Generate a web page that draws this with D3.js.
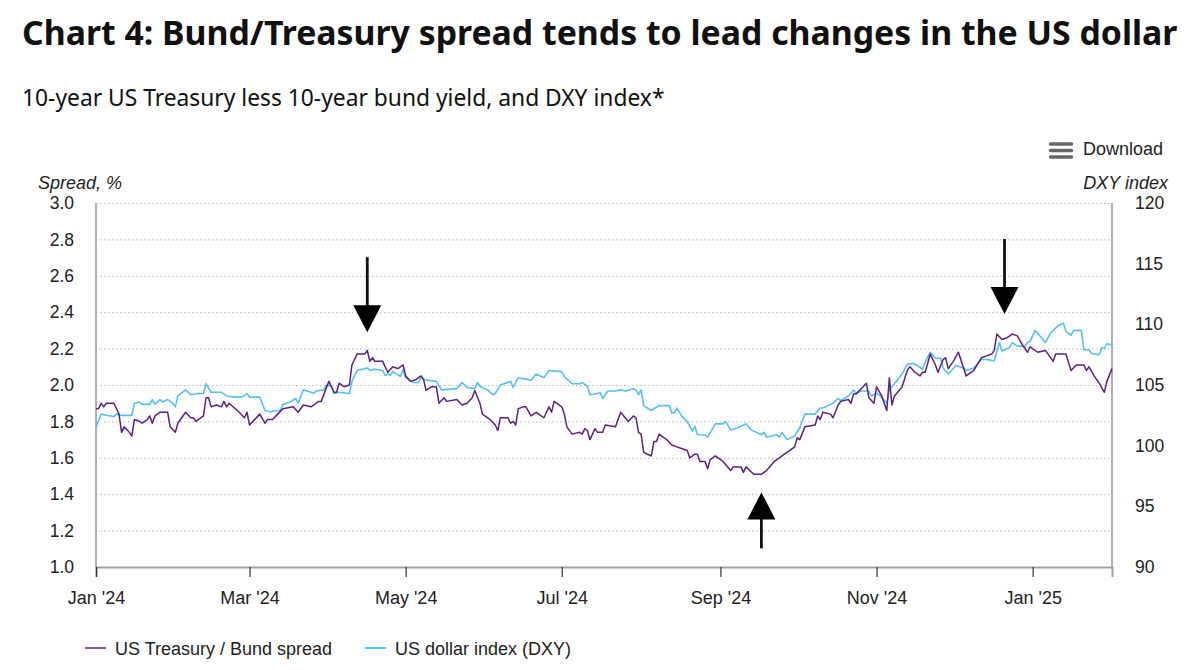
<!DOCTYPE html>
<html>
<head>
<meta charset="utf-8">
<script src="https://cdn.jsdelivr.net/npm/d3@7"></script>
<style>
  body { margin: 0; background: #fff; }
  .title { font-family: "Noto Sans", "Open Sans", sans-serif; }
  .lab { font-family: "Liberation Sans", Arial, sans-serif; fill: #222; }
</style>
</head>
<body>
<svg id="chart" width="1200" height="670"></svg>
<script>
// US Treasury / Bund spread (%)
const spreadDates = ["2024-01-01","2024-01-02","2024-01-03","2024-01-04","2024-01-05","2024-01-08","2024-01-10","2024-01-11","2024-01-12","2024-01-14","2024-01-15","2024-01-16","2024-01-18","2024-01-19","2024-01-21","2024-01-22","2024-01-23","2024-01-24","2024-01-26","2024-01-29","2024-01-30","2024-02-01","2024-02-02","2024-02-05","2024-02-07","2024-02-08","2024-02-09","2024-02-12","2024-02-13","2024-02-14","2024-02-15","2024-02-17","2024-02-19","2024-02-20","2024-02-21","2024-02-22","2024-02-26","2024-02-28","2024-02-29","2024-03-01","2024-03-05","2024-03-07","2024-03-08","2024-03-10","2024-03-12","2024-03-14","2024-03-18","2024-03-20","2024-03-22","2024-03-25","2024-03-28","2024-03-29","2024-04-01","2024-04-03","2024-04-04","2024-04-05","2024-04-07","2024-04-09","2024-04-10","2024-04-12","2024-04-15","2024-04-16","2024-04-17","2024-04-18","2024-04-19","2024-04-22","2024-04-24","2024-04-26","2024-04-28","2024-04-30","2024-05-01","2024-05-03","2024-05-05","2024-05-07","2024-05-08","2024-05-09","2024-05-11","2024-05-13","2024-05-14","2024-05-16","2024-05-17","2024-05-21","2024-05-23","2024-05-25","2024-05-27","2024-05-28","2024-05-30","2024-05-31","2024-06-03","2024-06-05","2024-06-06","2024-06-07","2024-06-10","2024-06-11","2024-06-12","2024-06-13","2024-06-14","2024-06-16","2024-06-17","2024-06-19","2024-06-21","2024-06-24","2024-06-26","2024-06-27","2024-06-28","2024-07-01","2024-07-02","2024-07-03","2024-07-05","2024-07-08","2024-07-09","2024-07-10","2024-07-11","2024-07-12","2024-07-14","2024-07-15","2024-07-17","2024-07-18","2024-07-22","2024-07-24","2024-07-27","2024-07-29","2024-07-30","2024-07-31","2024-08-01","2024-08-02","2024-08-05","2024-08-06","2024-08-07","2024-08-08","2024-08-11","2024-08-13","2024-08-15","2024-08-17","2024-08-19","2024-08-20","2024-08-22","2024-08-23","2024-08-24","2024-08-26","2024-08-27","2024-08-28","2024-08-30","2024-09-02","2024-09-05","2024-09-06","2024-09-09","2024-09-10","2024-09-11","2024-09-14","2024-09-17","2024-09-19","2024-09-22","2024-09-24","2024-09-26","2024-09-28","2024-09-30","2024-10-01","2024-10-02","2024-10-04","2024-10-08","2024-10-09","2024-10-10","2024-10-11","2024-10-14","2024-10-15","2024-10-17","2024-10-18","2024-10-21","2024-10-22","2024-10-23","2024-10-24","2024-10-26","2024-10-28","2024-10-29","2024-10-31","2024-11-01","2024-11-03","2024-11-05","2024-11-06","2024-11-07","2024-11-08","2024-11-11","2024-11-13","2024-11-14","2024-11-16","2024-11-18","2024-11-19","2024-11-20","2024-11-22","2024-11-24","2024-11-25","2024-11-27","2024-11-28","2024-11-29","2024-12-01","2024-12-03","2024-12-06","2024-12-09","2024-12-12","2024-12-14","2024-12-16","2024-12-17","2024-12-18","2024-12-20","2024-12-22","2024-12-24","2024-12-26","2024-12-28","2024-12-30","2024-12-31","2025-01-03","2025-01-06","2025-01-09","2025-01-10","2025-01-14","2025-01-16","2025-01-18","2025-01-21","2025-01-22","2025-01-23","2025-01-25","2025-01-27","2025-01-29","2025-01-30","2025-02-01"];
const spreadValues = [1.87,1.87,1.90,1.88,1.90,1.90,1.84,1.74,1.77,1.74,1.72,1.81,1.80,1.79,1.81,1.83,1.79,1.83,1.85,1.85,1.77,1.74,1.79,1.85,1.82,1.82,1.80,1.83,1.93,1.93,1.88,1.89,1.88,1.91,1.88,1.90,1.85,1.82,1.85,1.78,1.84,1.79,1.81,1.81,1.84,1.87,1.88,1.85,1.89,1.88,1.91,1.91,2.02,1.96,1.96,2.01,1.99,2.00,2.11,2.17,2.17,2.19,2.13,2.15,2.13,2.13,2.07,2.10,2.09,2.11,2.05,2.02,2.03,2.05,2.03,1.97,1.99,1.99,1.90,1.93,1.91,1.92,1.89,1.90,1.93,1.97,1.90,1.84,1.81,1.78,1.75,1.82,1.82,1.79,1.80,1.78,1.87,1.88,1.88,1.83,1.85,1.82,1.88,1.85,1.91,1.88,1.84,1.77,1.73,1.74,1.73,1.76,1.75,1.70,1.76,1.74,1.74,1.78,1.77,1.85,1.80,1.83,1.82,1.74,1.73,1.63,1.61,1.69,1.69,1.73,1.70,1.67,1.66,1.65,1.64,1.60,1.62,1.62,1.58,1.58,1.54,1.59,1.61,1.58,1.53,1.55,1.55,1.52,1.55,1.51,1.51,1.53,1.58,1.60,1.62,1.64,1.66,1.71,1.70,1.77,1.78,1.83,1.81,1.85,1.84,1.82,1.89,1.91,1.92,1.90,1.95,1.95,1.98,2.01,1.93,1.90,1.99,1.94,1.86,2.04,1.89,1.94,1.99,2.08,2.10,2.07,2.05,2.07,2.07,2.17,2.11,2.07,2.14,2.15,2.09,2.13,2.18,2.05,2.08,2.15,2.16,2.17,2.19,2.28,2.25,2.26,2.28,2.27,2.22,2.18,2.21,2.18,2.19,2.13,2.17,2.17,2.08,2.11,2.11,2.08,2.10,2.05,2.01,1.96,2.02,2.09];

// US dollar index (DXY)
const dxyDates = ["2024-01-01","2024-01-03","2024-01-05","2024-01-08","2024-01-09","2024-01-11","2024-01-12","2024-01-15","2024-01-16","2024-01-18","2024-01-19","2024-01-22","2024-01-23","2024-01-24","2024-01-26","2024-01-27","2024-01-29","2024-01-31","2024-02-01","2024-02-02","2024-02-05","2024-02-07","2024-02-10","2024-02-12","2024-02-13","2024-02-15","2024-02-19","2024-02-21","2024-02-24","2024-02-27","2024-02-29","2024-03-01","2024-03-05","2024-03-07","2024-03-09","2024-03-12","2024-03-13","2024-03-14","2024-03-17","2024-03-19","2024-03-20","2024-03-22","2024-03-25","2024-03-26","2024-03-27","2024-03-30","2024-03-31","2024-04-02","2024-04-03","2024-04-05","2024-04-09","2024-04-10","2024-04-12","2024-04-16","2024-04-17","2024-04-19","2024-04-22","2024-04-23","2024-04-24","2024-04-25","2024-04-26","2024-04-29","2024-04-30","2024-05-01","2024-05-04","2024-05-06","2024-05-07","2024-05-09","2024-05-13","2024-05-15","2024-05-21","2024-05-23","2024-05-25","2024-05-28","2024-05-29","2024-05-30","2024-06-02","2024-06-04","2024-06-05","2024-06-07","2024-06-11","2024-06-12","2024-06-14","2024-06-19","2024-06-21","2024-06-24","2024-06-26","2024-07-01","2024-07-02","2024-07-05","2024-07-08","2024-07-09","2024-07-11","2024-07-12","2024-07-15","2024-07-16","2024-07-17","2024-07-19","2024-07-22","2024-07-24","2024-07-26","2024-07-29","2024-07-30","2024-07-31","2024-08-01","2024-08-02","2024-08-05","2024-08-08","2024-08-12","2024-08-13","2024-08-14","2024-08-15","2024-08-17","2024-08-19","2024-08-21","2024-08-22","2024-08-23","2024-08-26","2024-08-27","2024-08-30","2024-09-02","2024-09-03","2024-09-05","2024-09-08","2024-09-11","2024-09-13","2024-09-17","2024-09-18","2024-09-19","2024-09-23","2024-09-24","2024-09-25","2024-09-27","2024-09-30","2024-10-02","2024-10-04","2024-10-08","2024-10-10","2024-10-11","2024-10-13","2024-10-15","2024-10-17","2024-10-18","2024-10-21","2024-10-22","2024-10-23","2024-10-24","2024-10-26","2024-10-29","2024-10-30","2024-11-01","2024-11-02","2024-11-05","2024-11-06","2024-11-08","2024-11-11","2024-11-13","2024-11-15","2024-11-17","2024-11-19","2024-11-20","2024-11-22","2024-11-24","2024-11-26","2024-11-27","2024-11-29","2024-12-02","2024-12-05","2024-12-06","2024-12-09","2024-12-12","2024-12-14","2024-12-17","2024-12-19","2024-12-20","2024-12-23","2024-12-24","2024-12-26","2024-12-29","2024-12-30","2024-12-31","2025-01-02","2025-01-04","2025-01-06","2025-01-08","2025-01-11","2025-01-13","2025-01-14","2025-01-16","2025-01-17","2025-01-20","2025-01-21","2025-01-23","2025-01-24","2025-01-27","2025-01-28","2025-01-29","2025-01-30","2025-02-01"];
const dxyValues = [101.5,102.6,102.5,102.4,102.6,102.5,102.5,102.5,103.5,103.6,103.4,103.4,103.8,103.4,103.8,103.6,103.8,103.5,103.2,104.1,104.6,104.2,104.3,104.3,105.1,104.4,104.4,104.1,104.0,104.0,104.3,104.0,104.0,102.9,102.8,102.9,102.9,103.4,103.6,103.9,103.5,104.6,104.4,104.3,104.5,104.6,105.0,104.9,104.3,104.4,104.3,105.3,106.2,106.4,106.2,106.3,106.2,105.8,105.9,105.8,106.1,105.7,106.3,105.6,105.2,105.2,105.6,105.4,105.3,104.6,104.7,105.2,104.8,104.7,105.2,104.9,104.6,104.2,104.3,105.0,105.3,104.8,105.6,105.4,105.9,105.6,106.2,106.1,105.7,105.1,105.1,105.2,104.9,104.2,104.3,104.4,103.9,104.5,104.5,104.6,104.5,104.7,104.6,104.2,104.6,103.3,102.9,103.3,103.3,102.7,102.7,103.1,102.4,102.0,101.2,101.6,100.9,100.9,100.7,101.8,101.8,102.0,101.3,101.5,101.8,101.3,100.9,101.1,100.7,100.9,100.7,101.1,100.5,100.8,101.5,102.6,102.6,103.1,103.1,103.3,103.5,103.9,103.7,104.1,104.3,104.6,104.3,104.5,104.5,104.1,104.3,104.2,103.5,104.6,105.1,105.9,106.7,106.8,106.6,106.3,106.9,107.7,107.2,107.2,106.4,105.9,106.6,106.4,106.2,106.4,107.1,107.1,107.0,108.5,107.8,108.1,108.5,108.2,108.2,108.5,108.6,109.5,109.0,108.5,109.3,109.9,110.1,109.4,109.1,109.5,109.5,107.9,107.9,107.6,107.5,108.1,108.0,108.4,108.3];

// axes
const spreadTicks = [1.0, 1.2, 1.4, 1.6, 1.8, 2.0, 2.2, 2.4, 2.6, 2.8, 3.0];
const dxyTicks = [90, 95, 100, 105, 110, 115, 120];
const monthTicks = ["2024-01-01","2024-03-01","2024-05-01","2024-07-01","2024-09-01","2024-11-01","2025-01-01"];
const monthLabels = ["Jan '24","Mar '24","May '24","Jul '24","Sep '24","Nov '24","Jan '25"];

// arrows (tip sits at date / spread level)
const arrowDates = ["2024-04-16","2024-12-21","2024-09-17"];
const arrowLevels = [2.29, 2.39, 1.41];
const arrowDirs = ["down","down","up"];

const seriesNames = ["US Treasury / Bund spread","US dollar index (DXY)"];
const colors = {spread: "#5b2181", dxy: "#55c0f2"};

let margin = {top: 203, right: 88, bottom: 103, left: 96},
    width = 1200 - margin.left - margin.right,
    height = 670 - margin.top - margin.bottom;
let parseTime = d3.timeParse("%Y-%m-%d");

let svg = d3.select("#chart");

//title
svg.append("text")
  .attr("class", "title")
  .attr("x", 22).attr("y", 45)
  .style("font-size", "33.8px").style("font-weight", "bold").style("fill", "#111")
  .text("Chart 4: Bund/Treasury spread tends to lead changes in the US dollar");

svg.append("text")
  .attr("class", "title")
  .attr("x", 22).attr("y", 106)
  .style("font-size", "22.8px").style("fill", "#111")
  .text("10-year US Treasury less 10-year bund yield, and DXY index*");

//download button
let dl = svg.append("g").attr("transform", "translate(1049,144)");
[0, 6.5, 13].forEach(dy => {
  dl.append("line").attr("x1", 1.5).attr("x2", 22.5).attr("y1", dy).attr("y2", dy)
    .style("stroke", "#666").style("stroke-width", 3.5).style("stroke-linecap", "round");
});
svg.append("text").attr("class", "lab")
  .attr("x", 1083).attr("y", 155)
  .style("font-size", "18px")
  .text("Download");

let g = svg.append("g")
  .attr("transform", "translate(" + margin.left + "," + margin.top + ")");

//scales
let x = d3.scaleTime().range([0, width])
  .domain([parseTime("2024-01-01"), parseTime("2025-02-01")]);
let y = d3.scaleLinear().range([height, 0]).domain([1.0, 3.0]);
let y2 = d3.scaleLinear().range([height, 0]).domain([90, 120]);

//gridlines
g.append("g")
  .attr("class", "grid")
  .call(d3.axisLeft(y).tickValues(spreadTicks).tickSize(-width).tickFormat(""))
  .call(s => s.select(".domain").remove())
  .call(s => s.selectAll("line").style("stroke", "#b8b8b8").style("stroke-dasharray", "1.5,2.5"));

//left axis
g.append("g")
  .call(d3.axisLeft(y).tickValues(spreadTicks).tickFormat(d3.format(".1f")).tickSize(0).tickPadding(22))
  .call(s => s.select(".domain").remove())
  .call(s => s.selectAll("text").attr("class", "lab").style("font-size", "17.5px"));

//right axis
g.append("g")
  .attr("transform", "translate(" + width + ",0)")
  .call(d3.axisRight(y2).tickValues(dxyTicks).tickSize(0).tickPadding(23))
  .call(s => s.select(".domain").remove())
  .call(s => s.selectAll("text").attr("class", "lab").style("font-size", "17.5px"));

//axis frame lines
g.append("line").attr("x1", 0).attr("x2", 0).attr("y1", 0).attr("y2", height)
  .style("stroke", "#b0b0b0").style("stroke-width", 2);
g.append("line").attr("x1", width).attr("x2", width).attr("y1", 0).attr("y2", height)
  .style("stroke", "#b0b0b0").style("stroke-width", 2);

//x axis
g.append("g")
  .attr("transform", "translate(0," + height + ")")
  .call(d3.axisBottom(x).tickValues(monthTicks.map(parseTime))
    .tickFormat((d, i) => monthLabels[i]).tickSize(10).tickPadding(14))
  .call(s => s.select(".domain").style("stroke", "#a0a0a0").style("stroke-width", 2))
  .call(s => s.selectAll(".tick line").style("stroke", "#333").style("stroke-width", 1.2))
  .call(s => s.selectAll("text").attr("class", "lab").style("font-size", "18px"));

//axis titles
svg.append("text").attr("class", "lab")
  .attr("x", 38).attr("y", 189)
  .style("font-size", "18px").style("font-style", "italic")
  .text("Spread, %");
svg.append("text").attr("class", "lab")
  .attr("x", 1168).attr("y", 189)
  .style("font-size", "18px").style("font-style", "italic")
  .style("text-anchor", "end")
  .text("DXY index");

//lines
let spreadData = spreadDates.map((d, i) => ({date: parseTime(d), value: spreadValues[i]}));
let dxyData = dxyDates.map((d, i) => ({date: parseTime(d), value: dxyValues[i]}));

let spreadLine = d3.line().x(d => x(d.date)).y(d => y(d.value));
let dxyLine = d3.line().x(d => x(d.date)).y(d => y2(d.value));

g.append("path").datum(dxyData)
  .attr("d", dxyLine)
  .style("fill", "none").style("stroke", colors.dxy).style("stroke-width", 1.6)
  .style("stroke-linejoin", "round");
g.append("path").datum(spreadData)
  .attr("d", spreadLine)
  .style("fill", "none").style("stroke", colors.spread).style("stroke-width", 1.5)
  .style("stroke-linejoin", "round");

//arrows
const arrowStyle = {head: 27, half: 14, shaftDown: 75, shaftUp: 56, width: 2.8};
arrowDates.forEach((d, i) => {
  let ax = x(parseTime(d)), ay = y(arrowLevels[i]);
  let s = arrowDirs[i] === "down" ? -1 : 1;
  let len = arrowDirs[i] === "down" ? arrowStyle.shaftDown : arrowStyle.shaftUp;
  g.append("line")
    .attr("x1", ax).attr("x2", ax)
    .attr("y1", ay + s * (arrowStyle.head - 2)).attr("y2", ay + s * len)
    .style("stroke", "#111").style("stroke-width", arrowStyle.width);
  g.append("path")
    .attr("d", "M" + ax + "," + ay +
      "L" + (ax - arrowStyle.half) + "," + (ay + s * arrowStyle.head) +
      "L" + (ax + arrowStyle.half) + "," + (ay + s * arrowStyle.head) + "Z")
    .style("fill", "#000");
});

//legend
let legend = svg.append("g").attr("transform", "translate(85,648)");
let legendX = [0, 280];
[colors.spread, colors.dxy].forEach((c, i) => {
  let item = legend.append("g").attr("transform", "translate(" + legendX[i] + ",0)");
  item.append("line").attr("x1", 0).attr("x2", 21).attr("y1", 0).attr("y2", 0)
    .style("stroke", c).style("stroke-width", 2).style("opacity", i === 0 ? 0.75 : 1);
  item.append("text").attr("class", "lab")
    .attr("x", 30).attr("y", 6.5)
    .style("font-size", "18px")
    .text(seriesNames[i]);
});
</script>
</body>
</html>
